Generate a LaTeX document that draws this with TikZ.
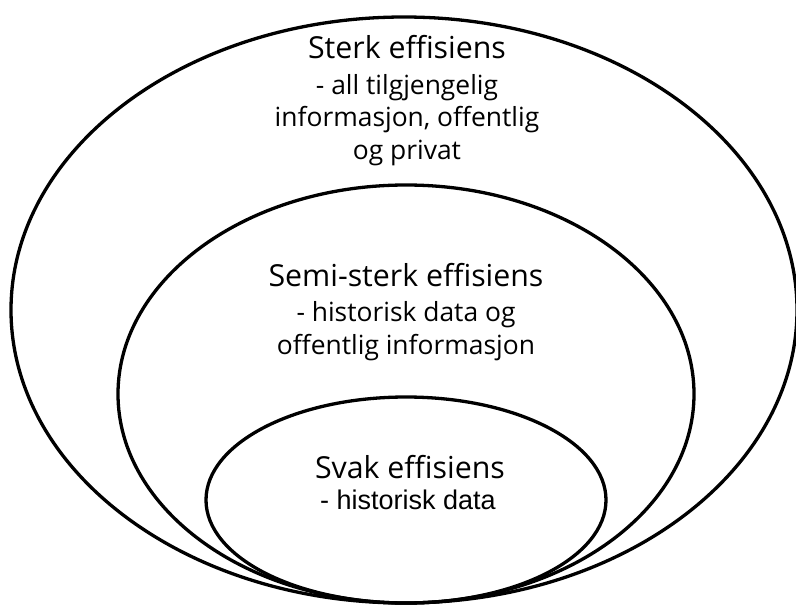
\documentclass[tikz,border=0pt]{standalone}
\usepackage{fontspec}
\setmainfont{Open Sans}
\newfontfamily\arialfont{Liberation Sans}
\begin{document}
\begin{tikzpicture}[x=1pt,y=-1pt,
  ring/.style={draw=black,line width=3.3pt},
  title/.style={font=\fontsize{30.3}{36}\selectfont,inner sep=0pt,anchor=center},
  sub/.style={font=\fontsize{26.4}{32.5}\selectfont,inner sep=0pt,align=center,anchor=center}]
\useasboundingbox (0,0) rectangle (796,608);
\draw[ring] (404,310) ellipse [x radius=393,y radius=293];
\draw[ring] (406,394) ellipse [x radius=288,y radius=209];
\draw[ring] (406,500) ellipse [x radius=200,y radius=103];
\node[title] (sterk) at (407,47) {Sterk effisiens};
\node[sub] (sterksub) at (407,120) {- all tilgjengelig\\informasjon, offentlig\\og privat};
\node[title] (semi) at (406,275) {Semi-sterk effisiens};
\node[sub] (semisub) at (406,331) {- historisk data og\\offentlig informasjon};
\node[title] (svak) at (410,467) {Svak effisiens};
\node[sub,font=\arialfont\fontsize{27}{32}\selectfont] (svaksub) at (408,500) {- historisk data};
\end{tikzpicture}
\end{document}
